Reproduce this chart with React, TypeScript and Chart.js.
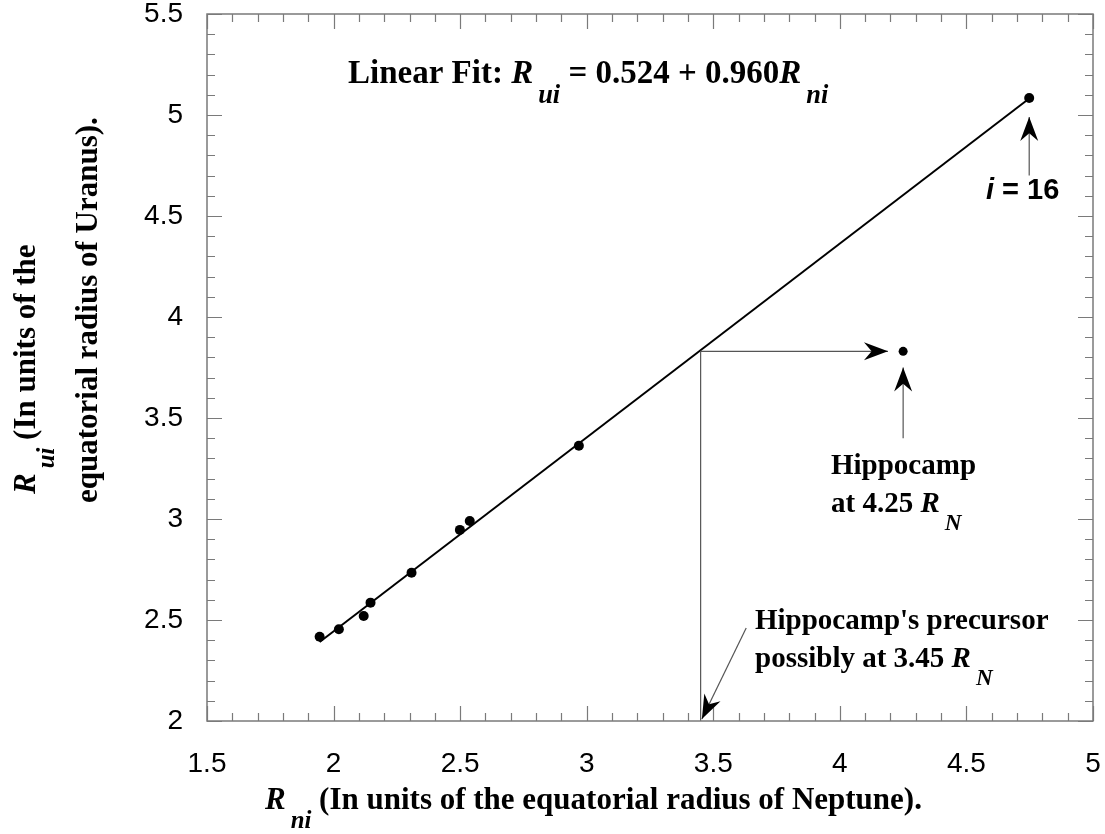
import React, { useEffect, useRef } from "react";
import { Chart, registerables } from "chart.js";

Chart.register(...registerables);

// ---- data ----
const xTickValues = [1.5, 2, 2.5, 3, 3.5, 4, 4.5, 5];
const yTickValues = [2, 2.5, 3, 3.5, 4, 4.5, 5, 5.5];
const neptuneRadii = [1.945, 2.021, 2.119, 2.146, 2.308, 2.499, 2.538, 2.969, 4.748];
const uranusRadii = [2.417, 2.454, 2.52, 2.586, 2.734, 2.946, 2.99, 3.363, 5.084];
const fitX = [1.945, 4.748];
const fitY = [2.391, 5.082];
const hippocampX = [4.25];
const hippocampY = [3.83];
const precursorX = [3.45, 3.45, 4.19];
const precursorY = [2.0, 3.83, 3.83];
// arrows: [x0, y0, x1 (tip), y1 (tip)]
const arrowHippo = [4.25, 3.4, 4.25, 3.75];
const arrowI16 = [4.748, 4.7, 4.748, 4.99];
const arrowPrecursor = [3.63, 2.46, 3.455, 2.01];
const arrowHorizontal = [3.45, 3.83, 4.19, 3.83];

const SERIF = '"Liberation Serif", "Times New Roman", serif';
const SANS = '"Liberation Sans", Arial, sans-serif';

type Seg = { t: string; it?: boolean; sub?: boolean; fam?: string };

const SUB_GAP = 5;

function richWidth(ctx: CanvasRenderingContext2D, segs: Seg[], size: number) {
  let w = 0;
  for (const s of segs) {
    const sz = s.sub ? size * 0.8 : size;
    ctx.font = `${s.it ? "italic " : ""}bold ${sz}px ${s.fam || SERIF}`;
    w += ctx.measureText(s.t).width + (s.sub ? SUB_GAP : 0);
  }
  return w;
}

function drawRich(
  ctx: CanvasRenderingContext2D,
  segs: Seg[],
  x: number,
  y: number,
  size: number,
  align: "left" | "center" = "left"
) {
  const total = richWidth(ctx, segs, size);
  let cx = align === "center" ? x - total / 2 : x;
  ctx.textBaseline = "alphabetic";
  ctx.textAlign = "left";
  ctx.fillStyle = "#000";
  for (const s of segs) {
    const sz = s.sub ? size * 0.8 : size;
    ctx.font = `${s.it ? "italic " : ""}bold ${sz}px ${s.fam || SERIF}`;
    if (s.sub) cx += SUB_GAP;
    ctx.fillText(s.t, cx, y + (s.sub ? size * 0.62 : 0));
    cx += ctx.measureText(s.t).width;
  }
}

function arrowHead(ctx: CanvasRenderingContext2D, x0: number, y0: number, x1: number, y1: number) {
  const L = 24, W = 9, notch = 0.68;
  const a = Math.atan2(y1 - y0, x1 - x0);
  ctx.save();
  ctx.translate(x1, y1);
  ctx.rotate(a);
  ctx.beginPath();
  ctx.moveTo(0, 0);
  ctx.lineTo(-L, -W);
  ctx.lineTo(-L * notch, 0);
  ctx.lineTo(-L, W);
  ctx.closePath();
  ctx.fillStyle = "#000";
  ctx.fill();
  ctx.restore();
}

const decorPlugin = {
  id: "decor",
  afterDraw(chart: any) {
    const ctx: CanvasRenderingContext2D = chart.ctx;
    const xs = chart.scales.x;
    const ys = chart.scales.y;
    const { left, right, top, bottom } = chart.chartArea;
    ctx.save();
    // frame
    ctx.strokeStyle = "#7a7a7a";
    ctx.lineWidth = 1.5;
    ctx.strokeRect(left, top, right - left, bottom - top);
    // ticks (inward, major every 0.5, minor every 0.1)
    ctx.lineWidth = 1.2;
    ctx.beginPath();
    for (let i = 0; i <= 35; i++) {
      const v = 1.5 + i * 0.1;
      const px = Math.round(xs.getPixelForValue(v)) + 0.5;
      const len = i % 5 === 0 ? 15 : 8;
      ctx.moveTo(px, bottom);
      ctx.lineTo(px, bottom - len);
      ctx.moveTo(px, top);
      ctx.lineTo(px, top + len);
    }
    for (let i = 0; i <= 35; i++) {
      const v = 2 + i * 0.1;
      const py = Math.round(ys.getPixelForValue(v)) + 0.5;
      const len = i % 5 === 0 ? 15 : 8;
      ctx.moveTo(left, py);
      ctx.lineTo(left + len, py);
      ctx.moveTo(right, py);
      ctx.lineTo(right - len, py);
    }
    ctx.stroke();

    // arrows
    const drawArrow = (a: number[], shaftColor: string) => {
      const x0 = xs.getPixelForValue(a[0]);
      const y0 = ys.getPixelForValue(a[1]);
      const x1 = xs.getPixelForValue(a[2]);
      const y1 = ys.getPixelForValue(a[3]);
      ctx.strokeStyle = shaftColor;
      ctx.lineWidth = 1.2;
      ctx.beginPath();
      ctx.moveTo(x0, y0);
      ctx.lineTo(x1, y1);
      ctx.stroke();
      arrowHead(ctx, x0, y0, x1, y1);
    };
    drawArrow(arrowHippo, "#555");
    drawArrow(arrowI16, "#555");
    drawArrow(arrowPrecursor, "#555");
    arrowHead(
      ctx,
      xs.getPixelForValue(arrowHorizontal[0]),
      ys.getPixelForValue(arrowHorizontal[1]),
      xs.getPixelForValue(arrowHorizontal[2]),
      ys.getPixelForValue(arrowHorizontal[3])
    );

    // annotations
    drawRich(
      ctx,
      [
        { t: "Linear Fit: " },
        { t: "R", it: true },
        { t: "ui", it: true, sub: true },
        { t: " = 0.524 + 0.960" },
        { t: "R", it: true },
        { t: "ni", it: true, sub: true },
      ],
      348,
      83,
      33
    );
    drawRich(
      ctx,
      [
        { t: "i", it: true, fam: SANS },
        { t: " = 16", fam: SANS },
      ],
      986,
      199,
      29
    );
    drawRich(ctx, [{ t: "Hippocamp" }], 831, 474, 29);
    drawRich(ctx, [{ t: "at 4.25 " }, { t: "R", it: true }, { t: "N", it: true, sub: true }], 831, 512, 29);
    drawRich(ctx, [{ t: "Hippocamp's precursor" }], 755, 629, 29);
    drawRich(ctx, [{ t: "possibly at 3.45 " }, { t: "R", it: true }, { t: "N", it: true, sub: true }], 755, 667, 29);

    // axis titles
    drawRich(
      ctx,
      [
        { t: "R", it: true },
        { t: "ni", it: true, sub: true },
        { t: " (In units of the equatorial radius of Neptune)." },
      ],
      265,
      809,
      31
    );
    ctx.save();
    ctx.translate(35, 494);
    ctx.rotate(-Math.PI / 2);
    drawRich(
      ctx,
      [
        { t: "R", it: true },
        { t: "ui", it: true, sub: true },
        { t: " (In units of the" },
      ],
      0,
      0,
      31
    );
    ctx.restore();
    ctx.save();
    ctx.translate(97, 503);
    ctx.rotate(-Math.PI / 2);
    drawRich(ctx, [{ t: "equatorial radius of Uranus)." }], 0, 0, 31);
    ctx.restore();

    ctx.restore();
  },
};

export default function App() {
  const ref = useRef<HTMLCanvasElement | null>(null);
  useEffect(() => {
    if (!ref.current) return;
    const chart = new Chart(ref.current, {
      type: "scatter",
      data: {
        datasets: [
          {
            label: "guide",
            data: precursorX.map((x, i) => ({ x, y: precursorY[i] })),
            showLine: true,
            borderColor: "#555",
            borderWidth: 1.2,
            pointRadius: 0,
          },
          {
            label: "fit",
            data: fitX.map((x, i) => ({ x, y: fitY[i] })),
            showLine: true,
            borderColor: "#000",
            borderWidth: 2,
            pointRadius: 0,
          },
          {
            label: "moons",
            data: neptuneRadii.map((x, i) => ({ x, y: uranusRadii[i] })),
            backgroundColor: "#000",
            borderColor: "#000",
            pointRadius: 5,
            borderWidth: 0,
          },
          {
            label: "hippocamp",
            data: hippocampX.map((x, i) => ({ x, y: hippocampY[i] })),
            backgroundColor: "#000",
            borderColor: "#000",
            pointRadius: 4.5,
            borderWidth: 0,
          },
        ],
      },
      options: {
        responsive: false,
        animation: false,
        devicePixelRatio: 1,
        layout: { padding: { top: 14, right: 12, left: 0, bottom: 0 } },
        plugins: { legend: { display: false }, tooltip: { enabled: false } },
        scales: {
          x: {
            type: "linear",
            min: 1.5,
            max: 5,
            afterBuildTicks: (s: any) => {
              s.ticks = xTickValues.map((v) => ({ value: v }));
            },
            afterFit: (s: any) => {
              s.height = 113;
              s.paddingLeft = 0;
              s.paddingRight = 0;
            },
            grid: { display: false, drawTicks: false },
            border: { display: false },
            ticks: {
              padding: 26,
              color: "#000",
              font: { family: SANS, size: 28 },
              maxRotation: 0,
              autoSkip: false,
              callback: (v: any) => String(v),
            },
          },
          y: {
            type: "linear",
            min: 2,
            max: 5.5,
            afterBuildTicks: (s: any) => {
              s.ticks = yTickValues.map((v) => ({ value: v }));
            },
            afterFit: (s: any) => {
              s.width = 207;
              s.paddingTop = 0;
              s.paddingBottom = 0;
            },
            grid: { display: false, drawTicks: false },
            border: { display: false },
            ticks: {
              padding: 24,
              color: "#000",
              font: { family: SANS, size: 28 },
              autoSkip: false,
              callback: (v: any) => String(v),
            },
          },
        },
      },
      plugins: [decorPlugin],
    });
    return () => chart.destroy();
  }, []);
  return (
    <div style={{ position: "absolute", left: 0, top: 0, width: 1105, height: 834, background: "#fff" }}>
      <canvas ref={ref} width={1105} height={834} style={{ width: 1105, height: 834, display: "block" }} />
    </div>
  );
}
